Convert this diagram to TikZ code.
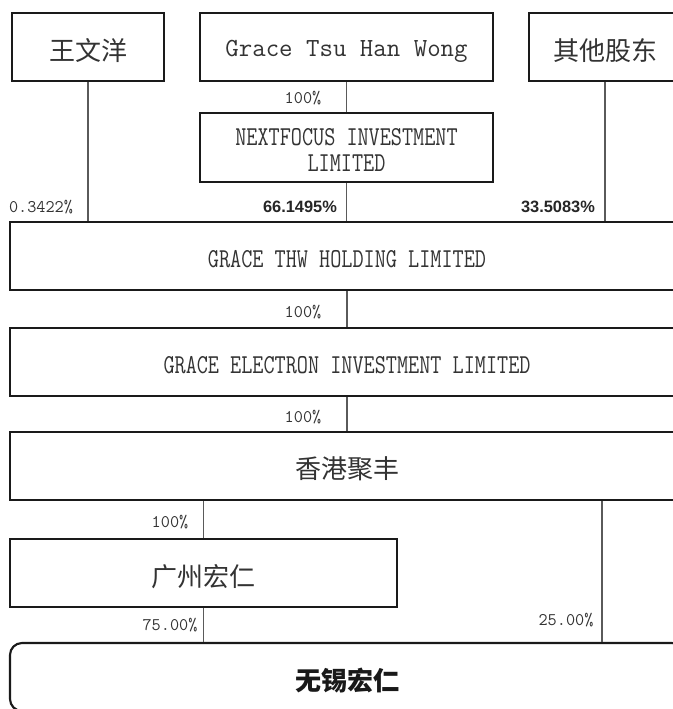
\documentclass[tikz,border=0pt]{standalone}
\usepackage{fontspec}
\newfontfamily\cjk{Noto Sans CJK SC}
\newfontfamily\pctfont{Liberation Sans}
\definecolor{txt}{HTML}{333333}
\definecolor{conn}{HTML}{5A5A5A}
\definecolor{frame}{HTML}{1A1A1A}
\newcommand\condtxt[2][2.2pt]{\raisebox{-#1}[\height][\depth]{\scalebox{0.79}[1]{#2}}}
\newcommand\cjktxt[2][2.4pt]{\raisebox{-#1}[\height][\depth]{#2}}
\tikzset{
  box/.style={draw=frame, line width=1.6pt, inner sep=0pt, text=txt, align=center},
  cjkbox/.style={box, font=\cjk\fontsize{19.5}{22}\selectfont},
  engbox/.style={box, font=\ttfamily\fontsize{20.5}{24}\selectfont},
  conn/.style={draw=conn, line width=0.8pt},
  pct/.style={inner sep=0pt, text=txt, font=\ttfamily\fontsize{13.3}{15}\selectfont},
  pctb/.style={inner sep=0pt, text=black!85, font=\pctfont\bfseries\fontsize{12.3}{14}\selectfont},
  sz/.style 2 args={minimum width=#1*0.75pt, minimum height=#2*0.75pt},
}
\begin{document}
\begin{tikzpicture}[x=0.75pt, y=-0.75pt]
\clip (0,0) rectangle (673,709);
\fill[white] (0,0) rectangle (673,709);
% top row
\node[cjkbox, sz={152}{68}] (wang) at (88,47) {\cjktxt{王文洋}};
\node[box, sz={293}{68}, font=\ttfamily\fontsize{19.6}{22}\selectfont] (grace) at (346.5,47) {\raisebox{-3.6pt}[\height][\depth]{Grace Tsu Han Wong}};
\node[cjkbox, sz={152}{68}] (other) at (605,47) {\cjktxt{其他股东}};
% nextfocus
\node[box, sz={293}{69}, font=\ttfamily\fontsize{20.5}{19.5}\selectfont] (next) at (346.5,147.5) {\condtxt[1.5pt]{NEXTFOCUS INVESTMENT}\\\condtxt[1.5pt]{LIMITED}};
% wide boxes
\node[engbox, sz={674}{68}] (thw) at (347,256) {\condtxt{GRACE THW HOLDING LIMITED}};
\node[engbox, sz={674}{68}] (elec) at (347,362) {\condtxt{GRACE ELECTRON INVESTMENT LIMITED}};
\node[cjkbox, sz={674}{68}] (hk) at (347,466) {\cjktxt{香港聚丰}};
\node[cjkbox, sz={387}{68}] (gz) at (203.5,573) {\cjktxt{广州宏仁}};
\node[cjkbox, rounded corners=9pt, sz={674}{68}, font=\cjk\bfseries\fontsize{19.5}{22}\selectfont, text=black!90] (wx) at (347,677) {\cjktxt[3pt]{无锡宏仁}};
% connectors
\draw[conn] (wang.south) -- (wang.south |- thw.north);
\draw[conn] (grace.south) -- (next.north);
\draw[conn] (next.south) -- (next.south |- thw.north);
\draw[conn] (other.south) -- (other.south |- thw.north);
\draw[conn] (thw.south) -- (elec.north);
\draw[conn] (elec.south) -- (hk.north);
\draw[conn] (gz.north) -- (gz.north |- hk.south);
\coordinate (rx) at (602,500);
\draw[conn] (rx |- hk.south) -- (rx |- wx.north);
\draw[conn] (gz.south) -- (gz.south |- wx.north);
% labels
\node[pct] (l1) at (303,98) {100\%};
\node[pct] (l2) at (41,207) {0.3422\%};
\node[pctb] (l3) at (300,207) {66.1495\%};
\node[pctb] (l4) at (558,207) {33.5083\%};
\node[pct] (l5) at (303,312) {100\%};
\node[pct] (l6) at (303,417) {100\%};
\node[pct] (l7) at (170,522) {100\%};
\node[pct] (l8) at (170,625) {75.00\%};
\node[pct] (l9) at (566,620) {25.00\%};
\end{tikzpicture}
\end{document}
